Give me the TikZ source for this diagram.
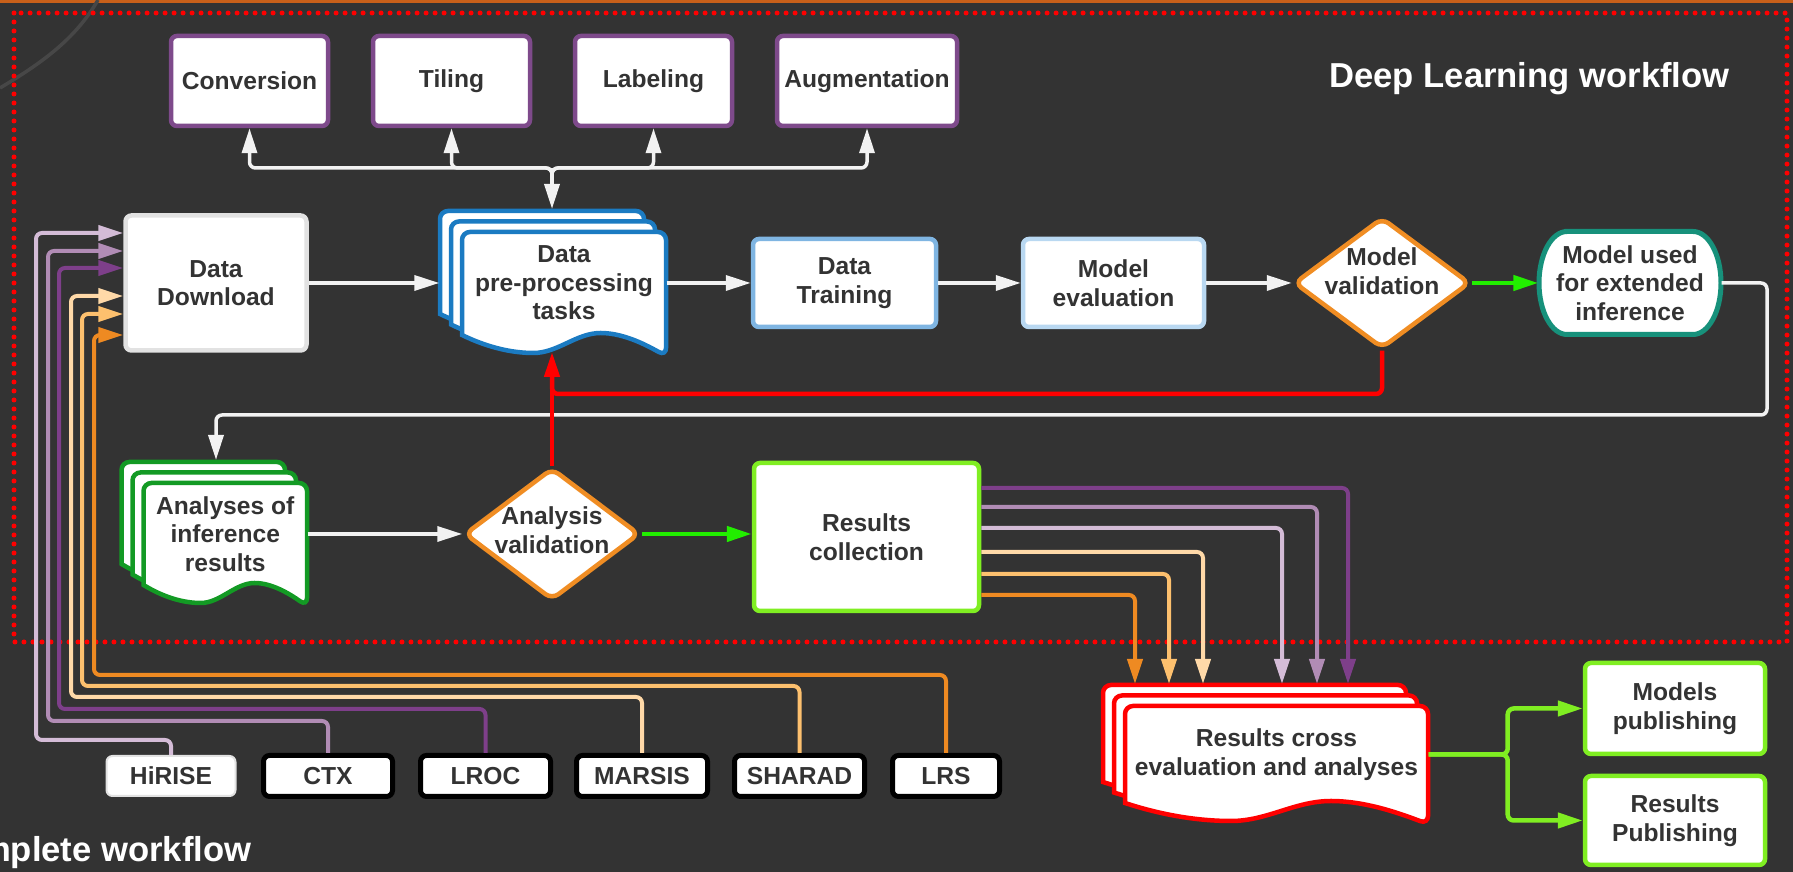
\documentclass[tikz,border=0pt]{standalone}
\usepackage{fontspec}
\setmainfont{Liberation Sans}
\usetikzlibrary{arrows.meta,shapes.geometric}

\definecolor{bg}{HTML}{333333}
\definecolor{ink}{HTML}{333333}
\definecolor{band}{HTML}{C8601A}
\definecolor{faint}{HTML}{474747}
\definecolor{boxpurple}{HTML}{7E4A8B}
\definecolor{ddgray}{HTML}{E2E2E2}
\definecolor{docblue}{HTML}{1B7BC2}
\definecolor{trblue}{HTML}{7FB5E2}
\definecolor{evblue}{HTML}{B9D8F1}
\definecolor{dorange}{HTML}{F08D23}
\definecolor{tealc}{HTML}{17917B}
\definecolor{lime}{HTML}{80EE22}
\definecolor{okgreen}{HTML}{22EE00}
\definecolor{docgreen}{HTML}{139A24}
\definecolor{wire}{HTML}{F2F2F2}
\definecolor{dpur}{HTML}{7E3F8A}
\definecolor{mauve}{HTML}{B18CB5}
\definecolor{lilac}{HTML}{D4BCD7}
\definecolor{peach}{HTML}{FFD9A8}
\definecolor{lorange}{HTML}{FDC06E}
\definecolor{srcorange}{HTML}{EE8A22}

\newcommand{\docstack}[5]{%
  \foreach \k in {2,1,0}{
    \begin{scope}[xshift={-1.1mm*\k}, yshift={1.05mm*\k}]
      \filldraw[draw=#5, fill=white, line width=0.45mm, rounded corners=0.8mm]
        (#1,{#2+#4}) -- (#1,#2) -- ({#1+#3},#2) -- ({#1+#3},{#2+#4+21})
        [sharp corners] .. controls ({#1+0.92*#3},{#2+#4+12}) and ({#1+0.8*#3},{#2+#4-2}) .. ({#1+0.68*#3},{#2+#4-2})
        .. controls ({#1+0.56*#3},{#2+#4-2}) and ({#1+0.47*#3},{#2+#4+18}) .. ({#1+0.35*#3},{#2+#4+18})
        .. controls ({#1+0.24*#3},{#2+#4+18}) and ({#1+0.12*#3},{#2+#4+12}) .. (#1,{#2+#4}) -- cycle;
    \end{scope}
  }
}

\begin{document}
\begin{tikzpicture}[x=0.1mm,y=-0.1mm,
    every node/.style={font=\fontsize{7}{8.1}\selectfont\bfseries, text=ink, align=center, inner sep=0pt},
    box/.style={draw, fill=white, rounded corners=0.6mm, line width=0.45mm},
    task/.style={box, draw=boxpurple, minimum width=15.7mm, minimum height=9mm},
    decision/.style={diamond, draw=dorange, fill=white, line width=0.45mm, rounded corners=0.8mm,
      minimum width=17.6mm, minimum height=13.1mm},
    srcbox/.style={box, draw=black, line width=0.5mm, minimum height=4.1mm},
    arr/.style={-{Triangle[length=2.5mm,width=1.5mm]}},
    wline/.style={draw=wire, line width=0.35mm, rounded corners=0.6mm, arr},
    gline/.style={draw=#1, line width=0.45mm, rounded corners=0.6mm, arr},
    rline/.style={draw=red, line width=0.45mm, rounded corners=0.6mm},
    src/.style={draw=#1, line width=0.4mm, rounded corners=0.6mm, arr}]

  \fill[bg] (0,0) rectangle (1793,872);
  \useasboundingbox (0,0) rectangle (1793,872);
  \fill[band] (0,0) rectangle (1793,3);
  \draw[faint, line width=0.35mm] (0,88) .. controls (40,64) and (75,40) .. (98,0);
  \draw[red, line width=0.5mm, line cap=round, dash pattern=on 0pt off 0.9mm] (14,13) rectangle (1787,642);

  \node[anchor=base, text=white, font=\fontsize{9.85}{12}\selectfont\bfseries] (dltitle) at (1529.5,88) {Deep Learning workflow};
  \node[anchor=base east, text=white, font=\fontsize{9.85}{12}\selectfont\bfseries] (cwtitle) at (252,862) {Complete workflow};

  \node[task] (conv) at (249.5,81) {Conversion};
  \node[task] (til) at (451.5,81) {Tiling};
  \node[task] (lab) at (653.5,81) {Labeling};
  \node[task, minimum width=18mm] (aug) at (867,81) {Augmentation};

  \node[box, draw=ddgray, minimum width=18.1mm, minimum height=13.5mm] (dd) at (216,283) {Data\\Download};
  \docstack{462}{232}{204}{103}{docblue}
  \node[minimum width=20.4mm, minimum height=10.3mm] (pre) at (564,283) {Data\\pre-processing\\tasks};
  \node[box, draw=trblue, minimum width=18.3mm, minimum height=8.8mm] (tr) at (844.5,283) {Data\\Training};
  \node[box, draw=evblue, minimum width=18.1mm, minimum height=8.8mm] (ev) at (1113.5,283) {Model\\evaluation};
  \node[decision] (mv) at (1382,283) {};
  \node (mvtext) at (1382,271) {Model\\validation};
  \filldraw[draw=tealc, fill=white, line width=0.5mm] (1567,231.5) -- (1693,231.5)
    arc[start angle=90, end angle=-90, x radius=2.8mm, y radius=5.15mm] -- (1567,334.5)
    arc[start angle=270, end angle=90, x radius=2.8mm, y radius=5.15mm] -- cycle;
  \node[minimum width=18.2mm, minimum height=10.3mm] (mu) at (1630,283) {Model used\\for extended\\inference};

  \docstack{143.5}{483}{163.5}{102}{docgreen}
  \node[minimum width=16.35mm, minimum height=10.2mm] (an) at (225.25,534) {Analyses of\\inference\\results};
  \node[decision, minimum width=17.5mm, minimum height=13.2mm] (av) at (552,534) {};
  \node (avtext) at (552,530) {Analysis\\validation};
  \node[box, draw=lime, minimum width=22.5mm, minimum height=14.8mm] (rc) at (866.5,537) {Results\\collection};

  \docstack{1125}{706}{303}{97}{red}
  \node[minimum width=30.3mm, minimum height=9.7mm] (rx) at (1276.5,754.5) {Results cross\\evaluation and analyses};
  \node[box, draw=lime, minimum width=18mm, minimum height=9.1mm] (mp) at (1675,708.5) {Models\\publishing};
  \node[box, draw=lime, minimum width=18mm, minimum height=8.9mm] (rp) at (1675,820.5) {Results\\Publishing};

  \node[box, draw=ddgray, line width=0.2mm, minimum width=12.9mm, minimum height=4mm] (hir) at (171,776) {HiRISE};
  \node[srcbox, minimum width=12.9mm] (ctx) at (328,776) {CTX};
  \node[srcbox, minimum width=13mm] (lroc) at (485.5,776) {LROC};
  \node[srcbox, minimum width=13.1mm] (mar) at (642,776) {MARSIS};
  \node[srcbox, minimum width=13mm] (sha) at (799.5,776) {SHARAD};
  \node[srcbox, minimum width=10.7mm] (lrs) at (946,776) {LRS};

  \coordinate (jn) at (552,180);
  \coordinate (bus) at (552,168);
  \coordinate (pretop) at (552,209);
  \foreach \t in {conv,til,lab,aug}
    \draw[wline] (jn) -- (bus) -| (\t.south);
  \draw[wline] (bus) -- (pretop);

  \draw[wline] (dd.east) -- ([xshift=-2.2mm]pre.west);
  \draw[wline] (pre.east) -- (tr.west);
  \draw[wline] (tr.east) -- (ev.west);
  \draw[wline] (ev.east) -- (mv.west);
  \draw[gline=okgreen] (mv.east) -- (mu.west);
  \coordinate (loopc) at (1767,415);
  \coordinate (antop) at (216,460);
  \draw[wline] (mu.east) -| (loopc) -| (antop);

  \draw[wline] (an.east) -- (av.west);
  \draw[gline=okgreen] (av.east) -- (av.east -| rc.west);

  \coordinate (prebot) at (552,352);
  \draw[rline, arr] (av.north) -- (prebot);
  \draw[rline] (mv.south) |- (av.north |- 0,394) -- (av.north |- 0,372);

  \coordinate (rxtop) at (1276.5,684);
  \foreach \col/\ya/\xa in {dpur/488/1348, mauve/507/1317, lilac/528/1282, peach/552/1203, lorange/574/1169, srcorange/595/1135}
    \draw[src=\col] (rc.east |- 0,\ya) -| (rxtop -| \xa,0);

  \foreach \sn/\col/\yh/\xv/\ya in {hir/lilac/740/36/233, ctx/mauve/721/48/251, lroc/dpur/709/59/268, mar/peach/697/71/296, sha/lorange/686/82/314, lrs/srcorange/675/94/335}
    \draw[src=\col] (\sn.north) |- (\xv,\yh) |- (dd.west |- 0,\ya);

  \coordinate (gs) at ([xshift=7.9mm]rx.east);
  \draw[gline=lime] (rx.east) -- (gs) |- (mp.west);
  \draw[gline=lime] (rx.east) -- (gs) |- (rp.west);
\end{tikzpicture}
\end{document}
